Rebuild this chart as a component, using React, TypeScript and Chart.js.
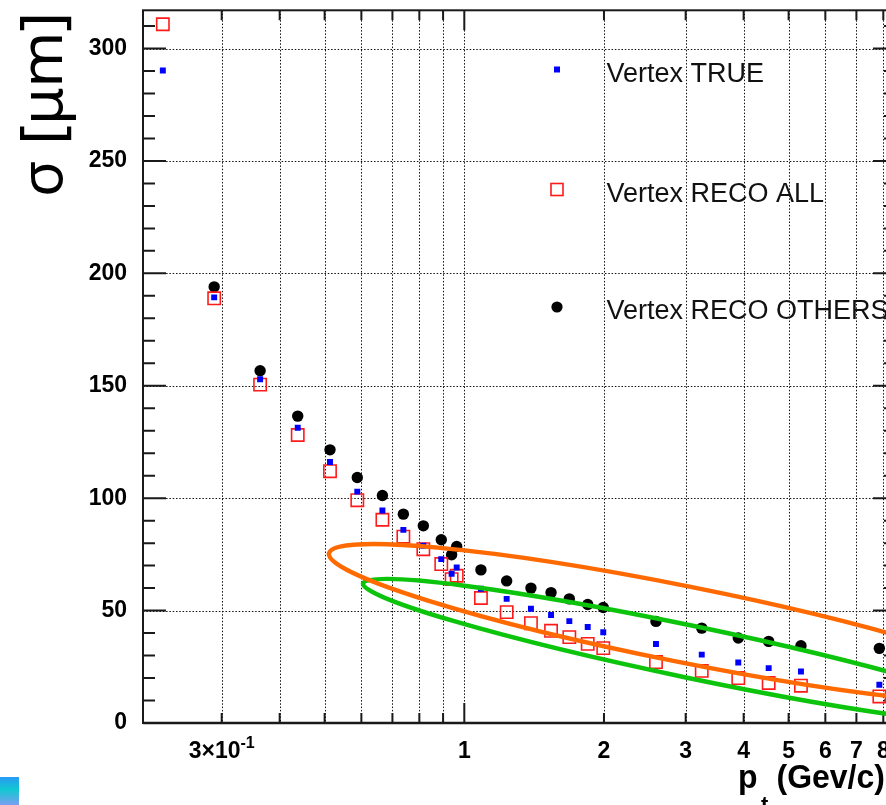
import React, { useEffect, useRef } from 'react';
import { Chart, registerables } from 'chart.js';

Chart.register(...registerables);

// ---- data ----
const ptValues = [0.224, 0.289, 0.363, 0.4375, 0.5135, 0.588, 0.666, 0.739, 0.816, 0.892, 0.939, 0.963, 1.086, 1.234, 1.392, 1.538, 1.684, 1.845, 1.993, 2.589, 3.249, 3.895, 4.529, 5.316, 7.844];
const sigmaTrue = [290.2, 189.3, 152.9, 131.3, 116.1, 102.9, 94.5, 85.9, 78.8, 72.9, 66.4, 69.2, 59.7, 55.2, 50.8, 48.0, 45.3, 42.7, 40.4, 35.1, 30.4, 26.9, 24.4, 22.9, 17.0];
const sigmaRecoAll = [310.8, 188.9, 150.5, 128.1, 112.0, 99.1, 90.4, 82.9, 77.3, 70.7, 64.0, 65.5, 55.6, 49.3, 44.4, 41.0, 38.2, 35.2, 33.3, 27.1, 23.2, 20.0, 17.8, 16.6, 11.8];
const sigmaRecoOthers = [null, 194.0, 156.7, 136.5, 121.5, 109.2, 101.2, 92.9, 87.7, 81.5, 74.8, 78.5, 68.1, 63.2, 60.0, 58.0, 55.2, 52.7, 51.4, 45.2, 42.2, 37.8, 36.3, 34.4, 33.2];

const seriesNames = ['Vertex TRUE', 'Vertex RECO ALL', 'Vertex RECO OTHERS'];

const xTickValues = [0.3, 0.4, 0.5, 0.6, 0.7, 0.8, 0.9, 1, 2, 3, 4, 5, 6, 7, 8];
const xTickLabels = ['3×10^-1', '', '', '', '', '', '', '1', '2', '3', '4', '5', '6', '7', '8'];
const xMajorTicks = [1];
const yMajorTicks = [0, 50, 100, 150, 200, 250, 300];
const yMinorTicks = [10, 20, 30, 40, 60, 70, 80, 90, 110, 120, 130, 140, 160, 170, 180, 190, 210, 220, 230, 240, 260, 270, 280, 290, 310];

const X_MIN = 0.203;
const X_MAX = 8.52;
const Y_MIN = 0;
const Y_MAX = 317;

// hand-drawn annotation ellipses (centre in data units)
const annotationEllipses = [
  { color: '#0cc40c', cx: 3.065, cy: 31.7, rx: 334, ry: 26, angleDeg: 11.8 },
  { color: '#ff6a00', cx: 2.946, cy: 44.1, rx: 360, ry: 38, angleDeg: 11.3 },
];

const BOLD_FONT = "'Liberation Sans', Arial, sans-serif";

const toPoints = (ys: (number | null)[]) =>
  ptValues.map((x, i) => ({ x, y: ys[i] })).filter((p) => p.y !== null) as { x: number; y: number }[];

const framePlugin = {
  id: 'framePlugin',
  beforeDatasetsDraw(chart: any) {
    const { ctx, chartArea: ca, scales } = chart;
    const xs = scales.x;
    const ys = scales.y;
    ctx.save();
    // dotted grid
    ctx.strokeStyle = '#111';
    ctx.lineWidth = 1;
    ctx.setLineDash([1.5, 1.8]);
    for (const v of xTickValues) {
      const px = Math.round(xs.getPixelForValue(v)) + 0.5;
      ctx.beginPath();
      ctx.moveTo(px, ca.top);
      ctx.lineTo(px, ca.bottom);
      ctx.stroke();
    }
    for (const v of yMajorTicks) {
      if (v === 0) continue;
      const py = Math.round(ys.getPixelForValue(v)) + 0.5;
      ctx.beginPath();
      ctx.moveTo(ca.left, py);
      ctx.lineTo(ca.right, py);
      ctx.stroke();
    }
    ctx.setLineDash([]);
    // frame
    ctx.strokeStyle = '#1a1a1a';
    ctx.lineWidth = 2;
    ctx.strokeRect(ca.left, ca.top, ca.right - ca.left, ca.bottom - ca.top);
    ctx.lineWidth = 2.5;
    ctx.beginPath();
    ctx.moveTo(ca.left, ca.bottom);
    ctx.lineTo(ca.right, ca.bottom);
    ctx.stroke();
    // ticks
    ctx.lineWidth = 2;
    for (const v of xTickValues) {
      const px = xs.getPixelForValue(v);
      const len = xMajorTicks.includes(v) ? 20 : 10;
      ctx.beginPath();
      ctx.moveTo(px, ca.bottom);
      ctx.lineTo(px, ca.bottom - len);
      ctx.moveTo(px, ca.top);
      ctx.lineTo(px, ca.top + len);
      ctx.stroke();
    }
    for (const v of yMajorTicks) {
      const py = ys.getPixelForValue(v);
      ctx.beginPath();
      ctx.moveTo(ca.left, py);
      ctx.lineTo(ca.left + 23, py);
      ctx.moveTo(ca.right, py);
      ctx.lineTo(ca.right - 23, py);
      ctx.stroke();
    }
    for (const v of yMinorTicks) {
      const py = ys.getPixelForValue(v);
      ctx.beginPath();
      ctx.moveTo(ca.left, py);
      ctx.lineTo(ca.left + 12, py);
      ctx.moveTo(ca.right, py);
      ctx.lineTo(ca.right - 12, py);
      ctx.stroke();
    }
    ctx.restore();
  },
  afterDatasetsDraw(chart: any) {
    const { ctx, scales } = chart;
    const xs = scales.x;
    const ys = scales.y;
    ctx.save();
    ctx.lineWidth = 4.5;
    for (const e of annotationEllipses) {
      const cx = xs.getPixelForValue(e.cx);
      const cy = ys.getPixelForValue(e.cy);
      ctx.strokeStyle = e.color;
      ctx.beginPath();
      ctx.ellipse(cx, cy, e.rx, e.ry, (e.angleDeg * Math.PI) / 180, 0, Math.PI * 2);
      ctx.stroke();
    }
    ctx.restore();
  },
  afterDraw(chart: any) {
    const { ctx, chartArea: ca, scales } = chart;
    const xs = scales.x;
    ctx.save();
    ctx.fillStyle = '#000';
    // x tick labels
    const base = ca.bottom + 35;
    xTickValues.forEach((v, i) => {
      const lab = xTickLabels[i];
      if (!lab) return;
      const px = xs.getPixelForValue(v);
      const [main, sup] = lab.split('^');
      ctx.font = `bold 23px ${BOLD_FONT}`;
      const wMain = ctx.measureText(main).width;
      let wSup = 0;
      if (sup) {
        ctx.font = `bold 16px ${BOLD_FONT}`;
        wSup = ctx.measureText(sup).width;
      }
      const start = px - (wMain + wSup) / 2;
      ctx.textAlign = 'left';
      ctx.textBaseline = 'alphabetic';
      ctx.font = `bold 23px ${BOLD_FONT}`;
      ctx.fillText(main, start, base);
      if (sup) {
        ctx.font = `bold 16px ${BOLD_FONT}`;
        ctx.fillText(sup, start + wMain, base - 10);
      }
    });
    // x title
    ctx.textAlign = 'left';
    ctx.textBaseline = 'alphabetic';
    ctx.save();
    ctx.translate(738, 788);
    ctx.scale(0.94, 1);
    ctx.font = `bold 34px ${BOLD_FONT}`;
    ctx.fillText('p', 0, 0);
    ctx.restore();
    ctx.font = `bold 22px ${BOLD_FONT}`;
    ctx.fillText('t', 761, 812);
    ctx.save();
    ctx.translate(776.5, 788);
    ctx.scale(0.94, 1);
    ctx.font = `bold 34px ${BOLD_FONT}`;
    ctx.fillText('(Gev/c)', 0, 0);
    ctx.restore();
    // y title
    ctx.save();
    ctx.font = `58px 'Noto Sans', 'DejaVu Sans', sans-serif`;
    const yt = 'σ [μm]';
    const w = ctx.measureText(yt).width;
    ctx.translate(62, 197);
    ctx.rotate(-Math.PI / 2);
    ctx.scale(185 / w, 1);
    ctx.fillText(yt, 0, 0);
    ctx.restore();
    // legend
    const legendY = [69.5, 189.5, 307];
    const mx = 557;
    const tx = 606.5;
    ctx.font = `27px ${BOLD_FONT}`;
    ctx.fillStyle = '#111';
    seriesNames.forEach((name, i) => {
      ctx.fillText(name, tx, legendY[i] + 12);
    });
    // markers
    ctx.fillStyle = '#0000ff';
    ctx.fillRect(mx - 3, legendY[0] - 3, 6, 6);
    ctx.strokeStyle = '#ff1a1a';
    ctx.lineWidth = 1.6;
    ctx.strokeRect(mx - 6, legendY[1] - 6, 12, 12);
    ctx.fillStyle = '#000';
    ctx.beginPath();
    ctx.arc(mx, legendY[2], 5.6, 0, Math.PI * 2);
    ctx.fill();
    ctx.restore();
  },
};

export default function App() {
  const ref = useRef<HTMLCanvasElement>(null);
  useEffect(() => {
    const chart = new Chart(ref.current as HTMLCanvasElement, {
      type: 'scatter',
      data: {
        datasets: [
          {
            label: seriesNames[0],
            data: toPoints(sigmaTrue),
            pointStyle: 'rect',
            pointRadius: 4.2,
            backgroundColor: '#0000ff',
            borderColor: '#0000ff',
            borderWidth: 0,
          },
          {
            label: seriesNames[1],
            data: toPoints(sigmaRecoAll),
            pointStyle: 'rect',
            pointRadius: 8.7,
            backgroundColor: 'rgba(0,0,0,0)',
            borderColor: '#ff1a1a',
            borderWidth: 1.6,
          },
          {
            label: seriesNames[2],
            data: toPoints(sigmaRecoOthers),
            pointStyle: 'circle',
            pointRadius: 5.7,
            backgroundColor: '#000',
            borderColor: '#000',
            borderWidth: 0,
          },
        ],
      },
      options: {
        animation: false,
        responsive: false,
        devicePixelRatio: 1,
        layout: { padding: { left: 0, top: 10, right: 24, bottom: 0 } },
        plugins: { legend: { display: false }, tooltip: { enabled: false } },
        scales: {
          x: {
            type: 'logarithmic',
            min: X_MIN,
            max: X_MAX,
            grid: { display: false },
            border: { display: false },
            ticks: { display: false },
            afterBuildTicks: (scale: any) => {
              scale.ticks = xTickValues.map((value) => ({ value }));
            },
            afterFit: (scale: any) => {
              scale.height = 82;
              scale.paddingLeft = 0;
              scale.paddingRight = 0;
            },
          },
          y: {
            type: 'linear',
            min: Y_MIN,
            max: Y_MAX,
            grid: { display: false },
            border: { display: false },
            ticks: {
              padding: 8,
              color: '#000',
              font: { family: BOLD_FONT, size: 23, weight: 'bold' },
            },
            afterBuildTicks: (scale: any) => {
              scale.ticks = yMajorTicks.map((value) => ({ value }));
            },
            afterFit: (scale: any) => {
              scale.width = 143;
              scale.paddingTop = 0;
              scale.paddingBottom = 0;
            },
          },
        },
      },
      plugins: [framePlugin],
    } as any);
    return () => chart.destroy();
  }, []);

  return (
    <div
      style={{
        position: 'fixed',
        left: 0,
        top: 0,
        width: 886,
        height: 805,
        overflow: 'hidden',
        background: '#fff',
      }}
    >
      <canvas ref={ref} width={920} height={805} style={{ display: 'block', width: 920, height: 805 }} />
      <div
        style={{
          position: 'absolute',
          left: 0,
          top: 777,
          width: 19,
          height: 28,
          background: 'linear-gradient(to bottom, #2a9af5 0%, #10c8d2 45%, #7b9ef0 100%)',
        }}
      />
    </div>
  );
}
